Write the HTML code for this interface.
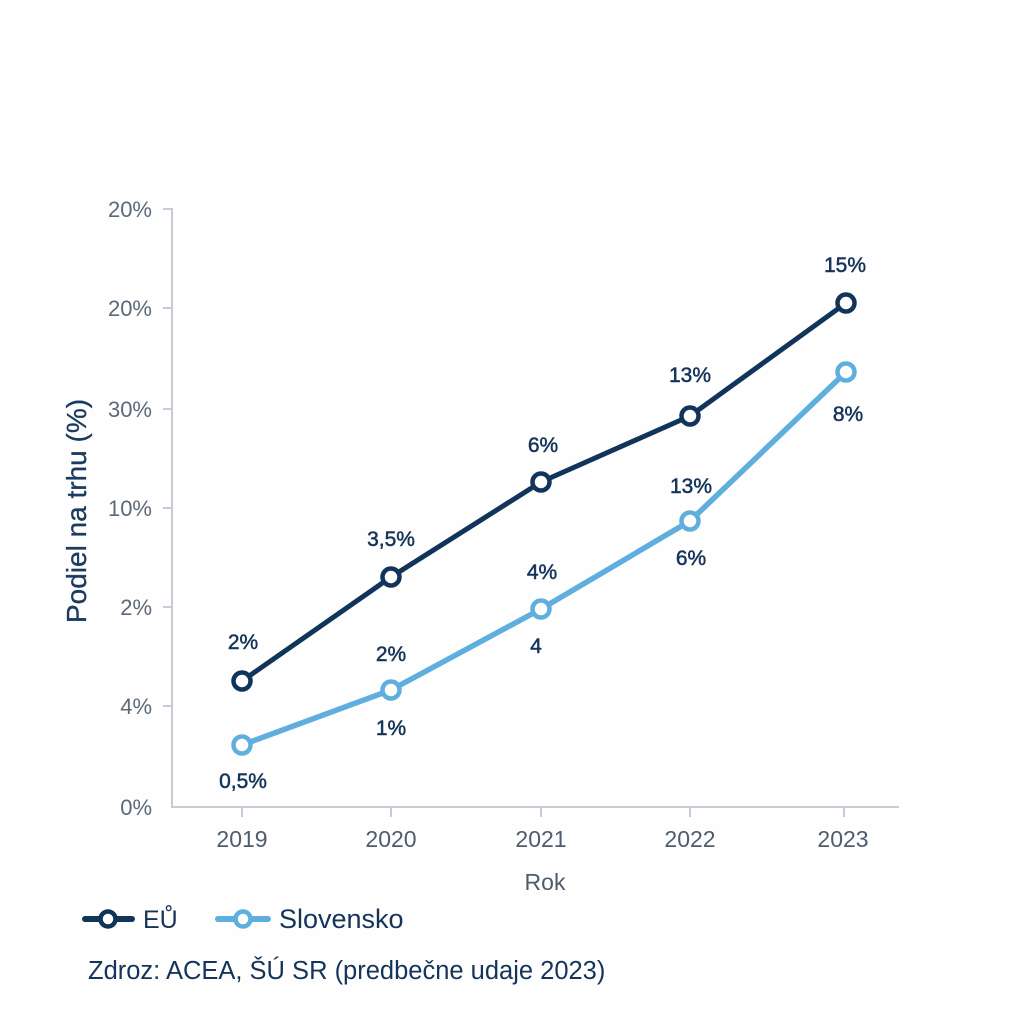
<!DOCTYPE html>
<html><head><meta charset="utf-8"><style>
html,body{margin:0;padding:0;background:#fefefe;}
svg{display:block;}
text{font-family:"Liberation Sans",sans-serif;}
</style></head><body>
<svg width="1024" height="1024" viewBox="0 0 1024 1024" xmlns="http://www.w3.org/2000/svg">
<rect width="1024" height="1024" fill="#fefefe"/>
<!-- axes -->
<g stroke="#c6ccd3" stroke-width="2" fill="none">
<line x1="172" y1="208" x2="172" y2="807"/>
<line x1="171" y1="807" x2="899" y2="807"/>
<line x1="163" y1="209" x2="172" y2="209"/>
<line x1="163" y1="308" x2="172" y2="308"/>
<line x1="163" y1="409" x2="172" y2="409"/>
<line x1="163" y1="508" x2="172" y2="508"/>
<line x1="163" y1="607" x2="172" y2="607"/>
<line x1="163" y1="706" x2="172" y2="706"/>
<line x1="242" y1="807" x2="242" y2="817"/>
<line x1="391" y1="807" x2="391" y2="817"/>
<line x1="541" y1="807" x2="541" y2="817"/>
<line x1="690" y1="807" x2="690" y2="817"/>
<line x1="844" y1="807" x2="844" y2="817"/>
</g>
<g fill="#5d6978" font-size="22" text-anchor="end">
<text x="152" y="217">20%</text>
<text x="152" y="316">20%</text>
<text x="152" y="417">30%</text>
<text x="152" y="516">10%</text>
<text x="152" y="615">2%</text>
<text x="152" y="714">4%</text>
<text x="152" y="815">0%</text>
</g>
<g fill="#4f5c6b" font-size="23" text-anchor="middle">
<text x="242" y="847">2019</text>
<text x="391" y="847">2020</text>
<text x="541" y="847">2021</text>
<text x="690" y="847">2022</text>
<text x="843" y="847">2023</text>
<text x="545" y="890" font-size="23">Rok</text>
</g>
<text transform="translate(86,511) rotate(-90)" text-anchor="middle" font-size="28" fill="#1a3a5e" stroke="#1a3a5e" stroke-width="0.3">Podiel na trhu (%)</text>
<!-- series -->
<polyline points="242,745 391,690 541,609 690,521 846,372" fill="none" stroke="#5eafdd" stroke-width="5.5" stroke-linejoin="round"/>
<polyline points="242,681 391,577 541,482 690,416 846,303" fill="none" stroke="#11345a" stroke-width="5" stroke-linejoin="round"/>
<g fill="#ffffff" stroke="#5eafdd" stroke-width="4.5">
<circle cx="242" cy="745" r="8.5"/><circle cx="391" cy="690" r="8.5"/><circle cx="541" cy="609" r="8.5"/><circle cx="690" cy="521" r="8.5"/><circle cx="846" cy="372" r="8.5"/>
</g>
<g fill="#ffffff" stroke="#11345a" stroke-width="4.5">
<circle cx="242" cy="681" r="8.5"/><circle cx="391" cy="577" r="8.5"/><circle cx="541" cy="482" r="8.5"/><circle cx="690" cy="416" r="8.5"/><circle cx="846" cy="303" r="8.5"/>
</g>
<g fill="#15345a" font-size="21" text-anchor="middle" stroke="#15345a" stroke-width="0.5">
<text x="243" y="649">2%</text>
<text x="391" y="546">3,5%</text>
<text x="543" y="452">6%</text>
<text x="690" y="382">13%</text>
<text x="845" y="272">15%</text>
<text x="243" y="788">0,5%</text>
<text x="391" y="661">2%</text>
<text x="391" y="735">1%</text>
<text x="542" y="579">4%</text>
<text x="536" y="653">4</text>
<text x="691" y="493">13%</text>
<text x="691" y="565">6%</text>
<text x="848" y="421">8%</text>
</g>
<!-- legend -->
<line x1="85" y1="919" x2="132" y2="919" stroke="#11345a" stroke-width="6" stroke-linecap="round"/>
<circle cx="108" cy="919" r="7.5" fill="#fff" stroke="#11345a" stroke-width="4.5"/>
<text x="143" y="928" font-size="25" fill="#15345a">EŮ</text>
<line x1="218" y1="919" x2="268" y2="919" stroke="#5eafdd" stroke-width="6" stroke-linecap="round"/>
<circle cx="243" cy="919" r="7.5" fill="#fff" stroke="#5eafdd" stroke-width="4.5"/>
<text x="279" y="928" font-size="27" fill="#15345a">Slovensko</text>
<text x="88" y="979" font-size="25.5" fill="#15345a">Zdroz: ACEA, ŠÚ SR (predbečne udaje 2023)</text>
</svg>
</body></html>
